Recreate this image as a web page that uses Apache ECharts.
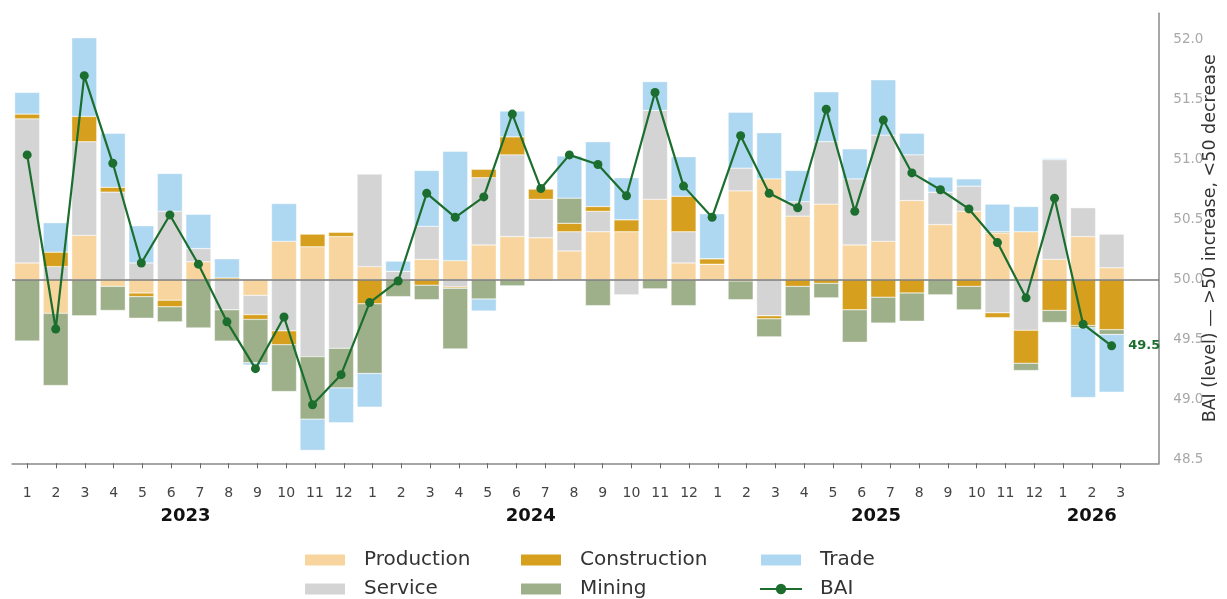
<!DOCTYPE html>
<html>
<head>
<meta charset="utf-8">
<script src="https://cdn.jsdelivr.net/npm/echarts@6/dist/echarts.min.js"></script>
<style>
  html, body { margin: 0; padding: 0; background: #ffffff; }
  #chart { width: 1227px; height: 599px; }
</style>
</head>
<body>
<div id="chart"></div>
<script>
// ---- Data (contributions relative to 50, BAI level) ----
const months = [1,2,3,4,5,6,7,8,9,10,11,12, 1,2,3,4,5,6,7,8,9,10,11,12, 1,2,3,4,5,6,7,8,9,10,11,12, 1,2,3];
const years  = [2023,2023,2023,2023,2023,2023,2023,2023,2023,2023,2023,2023,
                2024,2024,2024,2024,2024,2024,2024,2024,2024,2024,2024,2024,
                2025,2025,2025,2025,2025,2025,2025,2025,2025,2025,2025,2025,
                2026,2026,2026];
const production   = [0.14,-0.28,0.37,-0.055,-0.11,-0.17,0.15,0,-0.13,0.32,0.275,0.36,
                      0.11,0,0.17,0.16,0.29,0.36,0.35,0.24,0.40,0.40,0.67,0.14,
                      0.13,0.74,0.84,0.53,0.63,0.29,0.32,0.66,0.46,0.57,0.39,0.40,
                      0.17,0.36,0.10];
const service      = [1.20,0.11,0.78,0.73,0.14,0.57,0.11,-0.25,-0.16,-0.425,-0.64,-0.57,
                      0.77,0.07,0.275,-0.06,0.56,0.68,0.32,0.16,0.17,-0.125,0.74,0.26,
                      0,0.19,-0.30,0.12,0.52,0.55,0.885,0.38,0.27,0.21,-0.275,-0.42,
                      0.83,0.24,0.28];
const construction = [0.04,0.12,0.21,0.04,-0.03,-0.055,0,0.015,-0.04,-0.115,0.105,0.035,
                      -0.20,0,-0.045,-0.01,0.07,0.15,0.085,0.07,0.04,0.10,0,0.295,
                      0.045,-0.01,-0.025,-0.055,-0.03,-0.25,-0.145,-0.11,0,-0.055,-0.04,-0.275,
                      -0.255,-0.38,-0.415];
const mining       = [-0.51,-0.60,-0.30,-0.20,-0.18,-0.125,-0.40,-0.26,-0.36,-0.39,-0.52,-0.33,
                      -0.58,-0.14,-0.12,-0.505,-0.16,-0.05,-0.01,0.21,-0.215,0,-0.075,-0.215,
                      0,-0.155,-0.15,-0.245,-0.12,-0.27,-0.215,-0.235,-0.125,-0.195,0.01,-0.06,
                      -0.10,-0.02,-0.04];
const trade        = [0.18,0.245,0.655,0.45,0.31,0.315,0.285,0.16,-0.02,0.315,-0.26,-0.29,
                      -0.28,0.085,0.465,0.91,-0.10,0.215,0,0.35,0.54,0.35,0.24,0.33,
                      0.375,0.465,0.385,0.26,0.415,0.25,0.46,0.18,0.125,0.06,0.23,0.21,
                      0.01,-0.58,-0.48];
const bai          = [51.04,49.59,51.70,50.97,50.14,50.54,50.13,49.65,49.26,49.69,48.96,49.21,
                      49.81,49.99,50.72,50.52,50.69,51.38,50.76,51.04,50.96,50.70,51.56,50.78,
                      50.52,51.20,50.72,50.60,51.42,50.57,51.33,50.89,50.75,50.59,50.31,49.85,
                      50.68,49.63,49.45];
const yTickLabels = ['48.5','49.0','49.5','50.0','50.5','51.0','51.5','52.0'];
const BASE = 50;

// ---- Styling ----
const FONT = 'DejaVu Sans';
const colors = {
  Production: '#F8D59E',
  Service: '#D4D4D4',
  Construction: '#D69F1D',
  Mining: '#9DB089',
  Trade: '#AED7F1',
  BAI: '#1B6E2E'
};

// year label centres derived from the category arrays
const yearCenters = {};
years.forEach((y, i) => { (yearCenters[y] = yearCenters[y] || []).push(i); });
const yearLabelAt = Object.keys(yearCenters).map(y => {
  const idx = yearCenters[y];
  return { pos: (idx[0] + idx[idx.length - 1]) / 2, label: y };
});

const chart = echarts.init(document.getElementById('chart'), null, { renderer: 'canvas' });

function barSeries(name, arr) {
  return {
    name: name,
    type: 'bar',
    xAxisIndex: 0, yAxisIndex: 0,
    stack: 'contrib',
    stackStrategy: 'samesign',
    barWidth: 25,
    encode: { x: 1, y: 0 },
    itemStyle: { color: colors[name], borderColor: '#ffffff', borderWidth: 0.4 },
    data: arr.map((v, i) => [v, i]),
    z: 2
  };
}

const series = [
  barSeries('Production', production),
  barSeries('Service', service),
  barSeries('Construction', construction),
  barSeries('Mining', mining),
  barSeries('Trade', trade),
  {
    name: 'BAI',
    type: 'line',
    xAxisIndex: 0, yAxisIndex: 0,
    symbol: 'circle',
    symbolSize: 9,
    lineStyle: { color: colors.BAI, width: 2.2 },
    itemStyle: { color: colors.BAI },
    z: 10,
    data: bai.map((v, i) => {
      const pt = [i, v - BASE];
      if (i === bai.length - 1) {
        return {
          value: pt,
          label: {
            show: true, position: 'right', distance: 12,
            formatter: p => (p.value[1] + BASE).toFixed(1),
            color: colors.BAI, fontWeight: 'bold', fontSize: 13, fontFamily: FONT
          }
        };
      }
      return pt;
    }),
    markLine: {
      silent: true,
      symbol: 'none',
      label: { show: false },
      lineStyle: { color: '#7a7a7a', width: 1.5, type: 'solid' },
      data: [{ yAxis: 0 }],
      z: 5
    }
  }
];

function legendBlock(left, names) {
  return {
    orient: 'vertical',
    left: left,
    top: 550,
    padding: 0,
    itemGap: 9,
    itemWidth: 42,
    itemHeight: 13,
    data: names.map(n => n === 'BAI' ? { name: n } : { name: n, icon: 'rect' }),
    textStyle: { fontFamily: FONT, fontSize: 20, color: '#333', lineHeight: 20, padding: [0, 0, 0, 13] }
  };
}

const option = {
  animation: false,
  backgroundColor: '#ffffff',
  textStyle: { fontFamily: FONT },
  grid: [
    { left: 12.05, right: 58.7, top: 13.3, bottom: 135.7 },   // data
    { left: 27.3, right: 106.4, top: 13.3, bottom: 135.7 },   // month / year labels
    { left: 12.05, right: 58.7, top: 39.6, bottom: 139.05 }   // y tick labels
  ],
  xAxis: [
    {
      type: 'value', gridIndex: 0, position: 'bottom', min: -0.53, max: 39.66,
      axisLine: { show: true, onZero: false, lineStyle: { color: '#8a8a8a', width: 1.5 } },
      axisTick: { show: false }, axisLabel: { show: false }, splitLine: { show: false }
    },
    {
      type: 'value', gridIndex: 1, position: 'bottom', offset: 0, min: 0, max: months.length - 1, interval: 1,
      axisLine: { show: false, onZero: false },
      axisTick: { show: true, length: 5, lineStyle: { color: '#666', width: 1 } },
      axisLabel: {
        show: true, margin: 23, fontSize: 14, color: '#444', fontFamily: FONT,
        formatter: v => { const i = Math.round(v); return Math.abs(v - i) < 1e-6 && months[i] !== undefined ? String(months[i]) : ''; }
      },
      splitLine: { show: false }
    },
    {
      type: 'value', gridIndex: 1, position: 'bottom', offset: 0, min: 0, max: months.length - 1, interval: 0.5,
      axisLine: { show: false, onZero: false },
      axisTick: { show: false },
      axisLabel: {
        show: true, margin: 44, fontSize: 18, fontWeight: 'bold', color: '#111', fontFamily: FONT,
        formatter: v => { const f = yearLabelAt.find(y => Math.abs(y.pos - v) < 1e-6); return f ? String(f.label) : ''; }
      },
      splitLine: { show: false }
    },
    { type: 'value', gridIndex: 2, show: false, min: 0, max: 1 }
  ],
  yAxis: [
    {
      type: 'value', gridIndex: 0, position: 'right', min: -1.528, max: 2.219,
      axisLine: { show: true, onZero: false, lineStyle: { color: '#8a8a8a', width: 1.5 } },
      axisTick: { show: false }, axisLabel: { show: false }, splitLine: { show: false },
      name: 'BAI (level) — >50 increase, <50 decrease',
      nameLocation: 'middle', nameRotate: 90, nameGap: 42,
      nameTextStyle: { fontFamily: FONT, fontSize: 17.5, color: '#333' }
    },
    { type: 'value', gridIndex: 1, show: false, min: 0, max: 1 },
    {
      type: 'value', gridIndex: 2, position: 'right', min: -1.5, max: 2.0, interval: 0.5,
      axisLine: { show: false }, axisTick: { show: false }, splitLine: { show: false },
      axisLabel: {
        show: true, margin: 5, fontSize: 13.5, color: '#a8a8a8', fontFamily: FONT,
        formatter: v => { const k = Math.round((v + 1.5) / 0.5); return yTickLabels[k] || ''; }
      }
    }
  ],
  legend: [
    legendBlock(303, ['Production', 'Service']),
    legendBlock(519, ['Construction', 'Mining']),
    legendBlock(759, ['Trade', 'BAI'])
  ],
  series: series
};

chart.setOption(option);
</script>
</body>
</html>
